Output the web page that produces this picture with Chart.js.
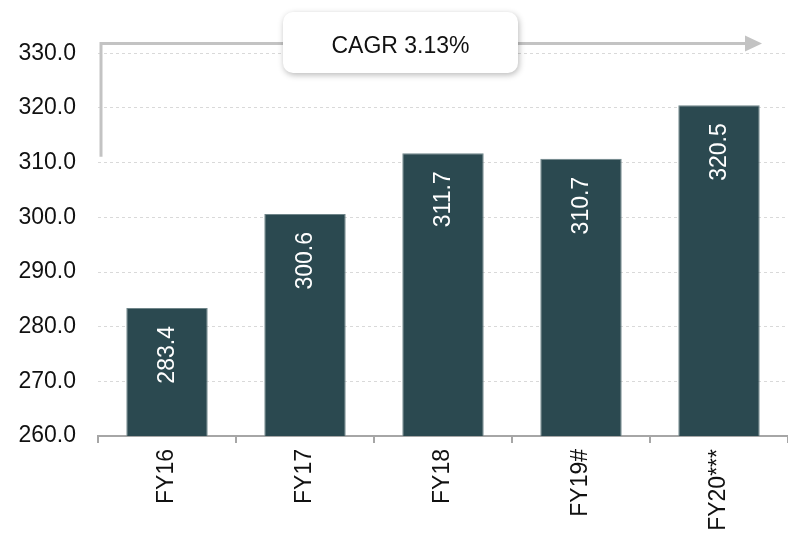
<!DOCTYPE html>
<html>
<head>
<meta charset="utf-8">
<script src="https://cdn.jsdelivr.net/npm/chart.js@4.4.0/dist/chart.umd.min.js"></script>
<style>
  html, body { margin: 0; padding: 0; background: #fff; }
  #wrap { width: 788px; height: 535px; }
</style>
</head>
<body>
<div id="wrap"><canvas id="fy-chart" width="788" height="535"></canvas></div>
<script>
// chart data
const categories = ['FY16', 'FY17', 'FY18', 'FY19#', 'FY20***'];
const values = [283.4, 300.6, 311.7, 310.7, 320.5];
const cagrText = 'CAGR 3.13%';
const yMin = 260;
const yMax = 335;

const barColor = '#2b4950';
const fontFamily = 'Liberation Sans, Arial, sans-serif';
const fontSize = 23;

// white rotated value labels inside the bars
const valueLabels = {
    id: 'valueLabels',
    afterDatasetsDraw(chart) {
        const ctx = chart.ctx;
        const meta = chart.getDatasetMeta(0);
        ctx.save();
        ctx.fillStyle = '#ffffff';
        ctx.font = fontSize + 'px ' + fontFamily;
        ctx.textAlign = 'right';
        ctx.textBaseline = 'middle';
        meta.data.forEach((bar, i) => {
            ctx.save();
            ctx.translate(bar.x + 1, bar.y + 18);
            ctx.rotate(-Math.PI / 2);
            ctx.fillText(values[i].toFixed(1), 0, 0);
            ctx.restore();
        });
        ctx.restore();
    }
};

// CAGR arrow and box
const cagrArrow = {
    id: 'cagrArrow',
    afterDraw(chart) {
        const ctx = chart.ctx;
        const area = chart.chartArea;
        const y = chart.scales.y;
        const lineY = y.getPixelForValue(331.8);
        const startY = y.getPixelForValue(311.1);
        const x0 = area.left + 3;
        const x1 = area.right - 43;
        ctx.save();
        ctx.strokeStyle = '#c3c3c3';
        ctx.lineWidth = 3;
        ctx.beginPath();
        ctx.moveTo(x0, startY);
        ctx.lineTo(x0, lineY);
        ctx.lineTo(x1, lineY);
        ctx.stroke();
        ctx.fillStyle = '#c3c3c3';
        ctx.beginPath();
        ctx.moveTo(x1, lineY - 8);
        ctx.lineTo(x1 + 17, lineY);
        ctx.lineTo(x1, lineY + 8);
        ctx.closePath();
        ctx.fill();

        // box
        const bw = 235, bh = 61;
        const bx = 283, by = 12;
        ctx.shadowColor = 'rgba(0,0,0,0.28)';
        ctx.shadowBlur = 6;
        ctx.shadowOffsetX = 1;
        ctx.shadowOffsetY = 2;
        ctx.fillStyle = '#ffffff';
        ctx.beginPath();
        ctx.roundRect(bx, by, bw, bh, 10);
        ctx.fill();
        ctx.shadowColor = 'transparent';
        ctx.fillStyle = '#111111';
        ctx.font = fontSize + 'px ' + fontFamily;
        ctx.textAlign = 'center';
        ctx.textBaseline = 'middle';
        ctx.fillText(cagrText, bx + bw / 2, by + bh / 2 + 4);
        ctx.restore();
    }
};

const chartCanvas = document.getElementById('fy-chart');
const chartContext = chartCanvas.getContext('2d');

window.fyChart = new Chart(chartContext, {
    type: 'bar',
    data: {
        labels: categories,
        datasets: [{
            data: values,
            backgroundColor: barColor,
            borderColor: '#6f8589',
            borderWidth: 1,
            categoryPercentage: 0.59,
            barPercentage: 1.0,
        }]
    },
    plugins: [valueLabels, cagrArrow],
    options: {
        responsive: false,
        animation: false,
        layout: { padding: { top: 26, right: 0, left: 0, bottom: 0 } },
        plugins: {
            legend: { display: false },
            tooltip: { enabled: false }
        },
        scales: {
            x: {
                afterFit(scale) { scale.height = 99; },
                border: { display: true, color: '#a6a6a6', width: 2 },
                grid: {
                    drawOnChartArea: false,
                    drawTicks: true,
                    tickLength: 7,
                    color: '#a6a6a6',
                    lineWidth: 2,
                    offset: true
                },
                ticks: {
                    minRotation: 90,
                    maxRotation: 90,
                    padding: 6,
                    color: '#111111',
                    font: { family: fontFamily, size: fontSize }
                }
            },
            y: {
                min: yMin,
                max: yMax,
                afterFit(scale) {
                    scale.width = 98;
                    scale.paddingTop = 0;
                },
                afterBuildTicks(scale) {
                    scale.ticks = scale.ticks.filter(t => t.value % 10 === 0);
                },
                border: { display: false, dash: [3, 3] },
                grid: {
                    drawTicks: false,
                    color: '#d9d9d9',
                    lineWidth: 1
                },
                ticks: {
                    stepSize: 10,
                    padding: 22,
                    color: '#111111',
                    font: { family: fontFamily, size: fontSize },
                    callback: v => v.toFixed(1)
                }
            }
        }
    }
});
</script>
</body>
</html>
